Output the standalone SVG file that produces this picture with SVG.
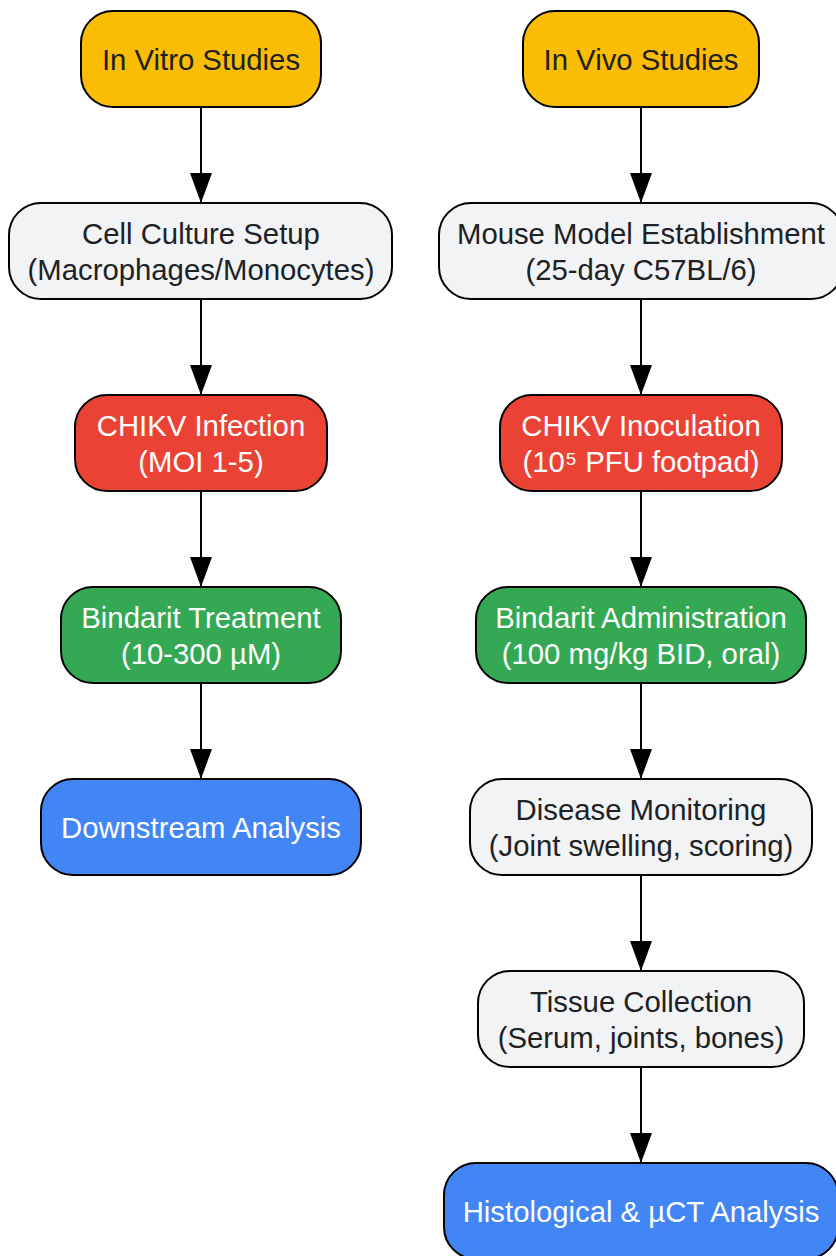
<svg xmlns="http://www.w3.org/2000/svg" width="836" height="1256" viewBox="0 0 836 1256">
<style>
.n{stroke:#000;stroke-width:2}
.y{fill:#FBBC04}.g{fill:#F1F3F4}.r{fill:#EA4335}.gr{fill:#34A853}.b{fill:#4285F4}
text{font-family:"Liberation Sans",Arial,sans-serif;font-size:29.3px;text-anchor:middle}
.d{fill:#202124}.w{fill:#FFFFFF}
.e{stroke:#000;stroke-width:2;fill:none;marker-end:url(#ah)}
</style>
<defs>
<marker id="ah" viewBox="0 0 30 22" refX="30" refY="11" markerWidth="30" markerHeight="22" markerUnits="userSpaceOnUse" orient="auto">
<path d="M0,0 L30,11 L0,22 z" fill="#000"/>
</marker>
</defs>
<rect width="836" height="1256" fill="#fff"/>
<g id="connectors">
<line class="e" x1="201" y1="107" x2="201" y2="203"/>
<line class="e" x1="201" y1="299" x2="201" y2="395"/>
<line class="e" x1="201" y1="491" x2="201" y2="587"/>
<line class="e" x1="201" y1="683" x2="201" y2="779"/>
<line class="e" x1="641" y1="107" x2="641" y2="203"/>
<line class="e" x1="641" y1="299" x2="641" y2="395"/>
<line class="e" x1="641" y1="491" x2="641" y2="587"/>
<line class="e" x1="641" y1="683" x2="641" y2="779"/>
<line class="e" x1="641" y1="875" x2="641" y2="971"/>
<line class="e" x1="641" y1="1067" x2="641" y2="1163"/>
</g>
<g id="invitro"><rect class="n y" x="81" y="11" width="240" height="96" rx="32"/><text class="d" x="201" y="70">In Vitro Studies</text></g>
<g id="cellculture"><rect class="n g" x="9" y="203" width="383" height="96" rx="32"/><text class="d" x="201" y="244">Cell Culture Setup</text><text class="d" x="201" y="280">(Macrophages/Monocytes)</text></g>
<g id="infection"><rect class="n r" x="75" y="395" width="252" height="96" rx="32"/><text class="w" x="201" y="436">CHIKV Infection</text><text class="w" x="201" y="472">(MOI 1-5)</text></g>
<g id="treatment"><rect class="n gr" x="61" y="587" width="280" height="96" rx="32"/><text class="w" x="201" y="628">Bindarit Treatment</text><text class="w" x="201" y="664">(10-300 µM)</text></g>
<g id="downstream"><rect class="n b" x="41" y="779" width="320" height="96" rx="32"/><text class="w" x="201" y="838">Downstream Analysis</text></g>
<g id="invivo"><rect class="n y" x="523" y="11" width="236" height="96" rx="32"/><text class="d" x="641" y="70">In Vivo Studies</text></g>
<g id="mousemodel"><rect class="n g" x="439" y="203" width="404" height="96" rx="32"/><text class="d" x="641" y="244">Mouse Model Establishment</text><text class="d" x="641" y="280">(25-day C57BL/6)</text></g>
<g id="inoculation"><rect class="n r" x="500" y="395" width="282" height="96" rx="32"/><text class="w" x="641" y="436">CHIKV Inoculation</text><text class="w" x="641" y="472">(10⁵ PFU footpad)</text></g>
<g id="administration"><rect class="n gr" x="476" y="587" width="330" height="96" rx="32"/><text class="w" x="641" y="628">Bindarit Administration</text><text class="w" x="641" y="664">(100 mg/kg BID, oral)</text></g>
<g id="monitoring"><rect class="n g" x="470" y="779" width="342" height="96" rx="32"/><text class="d" x="641" y="820">Disease Monitoring</text><text class="d" x="641" y="856">(Joint swelling, scoring)</text></g>
<g id="tissue"><rect class="n g" x="478" y="971" width="326" height="96" rx="32"/><text class="d" x="641" y="1012">Tissue Collection</text><text class="d" x="641" y="1048">(Serum, joints, bones)</text></g>
<g id="histology"><rect class="n b" x="444" y="1163" width="394" height="96" rx="32"/><text class="w" x="641" y="1222">Histological &amp; µCT Analysis</text></g>
</svg>
